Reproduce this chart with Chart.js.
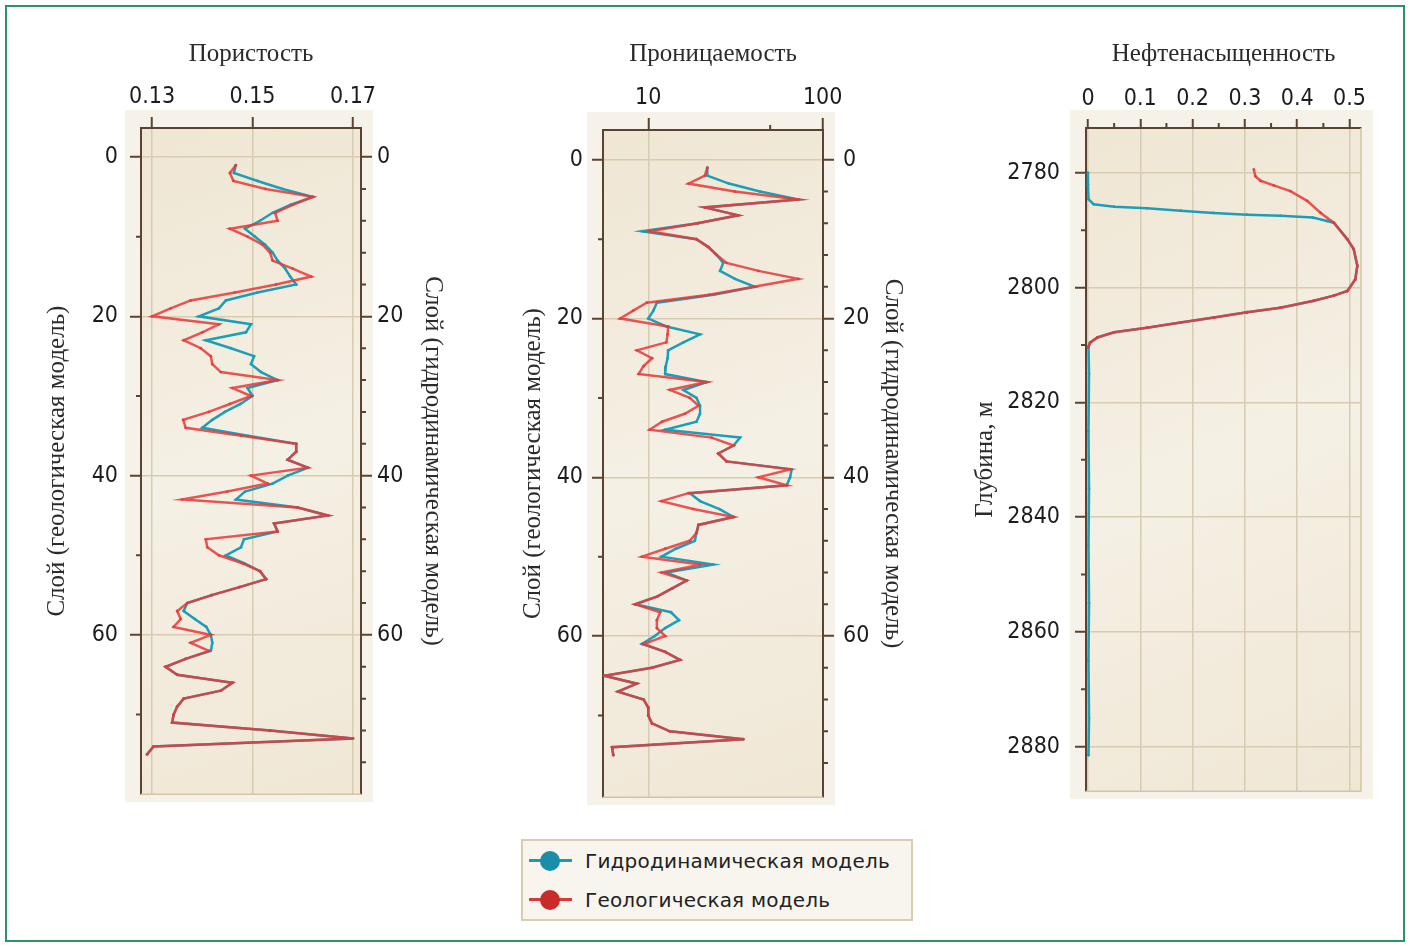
<!DOCTYPE html>
<html lang="ru">
<head>
<meta charset="utf-8">
<script src="https://cdn.jsdelivr.net/npm/chart.js@4.4.1/dist/chart.umd.min.js"></script>
<style>
  body { margin: 0; background: #fff; width: 1410px; height: 947px; overflow: hidden; }
  #frame { position: absolute; left: 5px; top: 5px; width: 1396px; height: 933px; border: 2px solid #2b9466; }
  canvas { position: absolute; top: 20px; }
  #c1 { left: 20px; }
  #c2 { left: 490px; }
  #c3 { left: 950px; }
  #legend {
    position: absolute; left: 521px; top: 839px; width: 388px; height: 78px;
    border: 2px solid #d9ccb0; background: #f8f5ee;
    font-family: 'DejaVu Sans', Verdana, sans-serif; font-size: 20px; color: #222; letter-spacing: 0.2px;
  }
  .item { position: absolute; left: 6px; height: 24px; line-height: 24px; }
  .item .ln { position: absolute; left: 0; top: 10px; width: 43px; height: 3px; }
  .item .dot { position: absolute; left: 11px; top: 2px; width: 20px; height: 20px; border-radius: 50%; }
  .item span { position: absolute; left: 56px; top: 0; white-space: nowrap; }
</style>
</head>
<body>
<div id="frame"></div>
<canvas id="c1" width="450" height="800"></canvas>
<canvas id="c2" width="450" height="800"></canvas>
<canvas id="c3" width="440" height="800"></canvas>
<div id="legend">
  <div class="item" style="top:8px"><div class="ln" style="background:#2496ad"></div><div class="dot" style="background:#1a8da8"></div><span>Гидродинамическая модель</span></div>
  <div class="item" style="top:47px"><div class="ln" style="background:#d83a3a"></div><div class="dot" style="background:#c92a2a"></div><span>Геологическая модель</span></div>
</div>
<script>
// layer numbers (both models share the same layering on the plot)
const layers = Array.from({ length: 75 }, (_, i) => i + 1);

const porHydro = [0.1467, 0.1463, 0.1510, 0.1560, 0.1620, 0.1575, 0.1540, 0.1515, 0.1485, 0.1505,
  0.1525, 0.1540, 0.1550, 0.1565, 0.1575, 0.1587, 0.1510, 0.1447, 0.1433, 0.1393,
  0.1497, 0.1487, 0.1407, 0.1457, 0.1503, 0.1497, 0.1517, 0.1550, 0.1490, 0.1500,
  0.1476, 0.1445, 0.1420, 0.1400, 0.1491, 0.1587, 0.1587, 0.1570, 0.1610, 0.1570,
  0.1540, 0.1485, 0.1467, 0.1590, 0.1650, 0.1543, 0.1550, 0.1483, 0.1477, 0.1447,
  0.1483, 0.1515, 0.1527, 0.1474, 0.1419, 0.1370, 0.1363, 0.1385, 0.1408, 0.1417,
  0.1420, 0.1417, 0.1367, 0.1327, 0.1350, 0.1460, 0.1437, 0.1363, 0.1350, 0.1343,
  0.1340, 0.1535, 0.1700, 0.1303, 0.1290];
const porGeo = [0.1467, 0.1455, 0.1462, 0.1526, 0.1620, 0.1580, 0.1545, 0.1550, 0.1455, 0.1490,
  0.1520, 0.1535, 0.1540, 0.1580, 0.1617, 0.1547, 0.1465, 0.1377, 0.1337, 0.1300,
  0.1433, 0.1400, 0.1363, 0.1397, 0.1417, 0.1420, 0.1437, 0.1550, 0.1460, 0.1497,
  0.1455, 0.1413, 0.1362, 0.1367, 0.1478, 0.1587, 0.1587, 0.1570, 0.1610, 0.1497,
  0.1530, 0.1450, 0.1360, 0.1590, 0.1650, 0.1543, 0.1550, 0.1407, 0.1410, 0.1433,
  0.1480, 0.1515, 0.1527, 0.1474, 0.1419, 0.1370, 0.1350, 0.1357, 0.1343, 0.1417,
  0.1377, 0.1413, 0.1367, 0.1327, 0.1350, 0.1460, 0.1437, 0.1363, 0.1350, 0.1343,
  0.1340, 0.1535, 0.1700, 0.1303, 0.1290];

const permHydro = [21.8, 21.8, 29.0, 43.7, 72.4, 21.1, 32.8, 19.2, 9.2, 18.9,
  22.1, 24.7, 26.9, 25.8, 31.4, 40.9, 23.7, 11.2, 10.7, 10.0,
  12.7, 19.8, 15.9, 13.0, 12.9, 12.6, 12.5, 21.6, 15.9, 18.9,
  19.8, 19.8, 18.9, 12.5, 33.6, 30.8, 25.2, 28.1, 66.4, 65.0,
  62.2, 17.3, 19.8, 25.6, 30.8, 19.4, 18.9, 18.5, 14.4, 11.9,
  23.6, 12.7, 16.6, 13.7, 11.3, 8.4, 13.5, 15.0, 12.5, 10.9,
  9.2, 12.5, 15.2, 10.5, 5.6, 8.6, 6.7, 9.4, 10.0, 10.0,
  10.5, 13.3, 35.1, 6.2, 6.3];
const permGeo = [21.8, 21.1, 17.0, 31.3, 72.4, 21.1, 32.8, 19.2, 10.2, 18.9,
  22.1, 24.7, 28.1, 42.8, 72.4, 40.4, 22.4, 9.8, 8.2, 6.9,
  13.0, 12.9, 12.7, 8.6, 10.5, 9.4, 8.8, 21.6, 13.3, 17.3,
  19.4, 16.2, 12.0, 10.2, 23.1, 30.8, 25.2, 28.1, 65.0, 42.8,
  62.2, 17.0, 11.9, 18.1, 30.8, 19.4, 18.9, 17.3, 12.5, 9.2,
  19.8, 11.9, 16.6, 13.7, 11.3, 8.4, 11.7, 11.2, 11.2, 12.5,
  9.4, 12.5, 15.2, 10.5, 5.6, 8.6, 6.7, 9.4, 10.0, 10.0,
  10.5, 13.3, 35.1, 6.2, 6.3];

// oil saturation vs depth, m
const satHydroDepth = [2780.0, 2782.0, 2784.6, 2785.5, 2785.9, 2786.2, 2786.6, 2787.0, 2787.3, 2787.5,
  2787.8, 2788.4, 2788.7, 2791.6, 2793.3, 2796.2, 2798.6, 2800.6, 2801.4, 2802.3,
  2803.5, 2804.3, 2805.2, 2806.1, 2807.0, 2807.8, 2808.7, 2809.6, 2810.4, 2815,
  2825, 2835, 2845, 2855, 2865, 2875, 2881.5];
const satHydro = [0.000, 0.000, 0.001, 0.011, 0.050, 0.113, 0.177, 0.240, 0.304, 0.368,
  0.430, 0.457, 0.470, 0.496, 0.508, 0.515, 0.511, 0.496, 0.470, 0.432,
  0.368, 0.304, 0.241, 0.177, 0.113, 0.050, 0.018, 0.004, 0.001, 0.002,
  0.001, 0.002, 0.001, 0.002, 0.001, 0.002, 0.001];
const satGeoDepth = [2779.4, 2780.6, 2781.4, 2782.2, 2783.2, 2784.9, 2787.0, 2788.7, 2791.6, 2793.3,
  2796.2, 2798.6, 2800.6, 2801.4, 2802.3, 2803.5, 2804.3, 2805.2, 2806.1, 2807.0,
  2807.8, 2808.7, 2809.6, 2810.4];
const satGeo = [0.317, 0.320, 0.330, 0.355, 0.387, 0.419, 0.445, 0.470, 0.496, 0.508,
  0.515, 0.511, 0.496, 0.470, 0.432, 0.368, 0.304, 0.241, 0.177, 0.113,
  0.050, 0.018, 0.004, 0.000];

// tick labels
const porTicks = [0.13, 0.15, 0.17];
const permTicks = [10, 100];
const satTicks = [0, 0.1, 0.2, 0.3, 0.4, 0.5];
const layerTicks = [0, 20, 40, 60];
const depthTicks = [2780, 2800, 2820, 2840, 2860, 2880];
// unlabelled minor ticks
const layerMinor = [10, 30, 50, 70];
const hydroLayerMinor = [4, 8, 12, 16, 24, 28, 32, 36, 44, 48, 52, 56, 64, 68, 72, 76];
const permMinor = [50];
const satMinor = [0.05, 0.15, 0.25, 0.35, 0.45];
const depthMinor = [2790, 2810, 2830, 2850, 2870];

const TEAL = '#1c9fb6';
const RED = 'rgba(230, 56, 56, 0.85)';
const AXIS = '#5a4430';
const GRID = '#d7cbb2';
const tickFont = { family: "'DejaVu Sans Condensed', 'Liberation Sans', sans-serif", size: 23 };
const titleFont = { family: "'Liberation Serif', 'Times New Roman', serif", size: 25, lineHeight: 1.2 };

const axisDecor = {
  id: 'axisDecor',
  beforeDraw(chart) {
    const { ctx, chartArea: a } = chart;
    ctx.save();
    ctx.fillStyle = '#f6f2e9';
    ctx.fillRect(a.left - 16, a.top - 18, a.width + 28, a.height + 26);
    const g = ctx.createLinearGradient(a.left, a.top, a.right, a.bottom);
    g.addColorStop(0, '#efe6d3');
    g.addColorStop(0.5, '#f5f0e5');
    g.addColorStop(1, '#f0e7d5');
    ctx.fillStyle = g;
    ctx.fillRect(a.left, a.top, a.width, a.height);
    ctx.restore();
  },
  afterDraw(chart, args, opts) {
    const { ctx, chartArea: a, scales } = chart;
    ctx.save();
    ctx.strokeStyle = '#d3c4a5';
    ctx.lineWidth = 1.5;
    ctx.beginPath();
    ctx.moveTo(a.left, a.bottom);
    ctx.lineTo(a.right, a.bottom);
    if (opts.openRight) {
      ctx.moveTo(a.right, a.top);
      ctx.lineTo(a.right, a.bottom);
    }
    ctx.stroke();
    ctx.strokeStyle = AXIS;
    ctx.lineWidth = 2;
    ctx.beginPath();
    for (const m of opts.minor) {
      const s = scales[m.axis];
      for (const v of m.values) {
        const p = s.getPixelForValue(v);
        if (s.position === 'left') { ctx.moveTo(a.left - 5, p); ctx.lineTo(a.left, p); }
        else if (s.position === 'right') { ctx.moveTo(a.right, p); ctx.lineTo(a.right + 5, p); }
        else { ctx.moveTo(p, a.top - 5); ctx.lineTo(p, a.top); }
      }
    }
    ctx.stroke();
    ctx.restore();
  }
};

function fixedTicks(values) {
  return scale => { scale.ticks = values.map(v => ({ value: v })); };
}

function valueAxis(cfg) {
  return {
    type: cfg.type || 'linear',
    position: 'top',
    min: cfg.min,
    max: cfg.max,
    afterBuildTicks: fixedTicks(cfg.ticks),
    afterFit: s => { s.height = cfg.size; },
    ticks: { font: tickFont, color: '#1c1c1c', padding: 6, autoSkip: false, maxRotation: 0, callback: cfg.format },
    grid: { color: GRID, lineWidth: 1.5, tickLength: cfg.tickLength || 11, tickColor: AXIS, tickWidth: 2 },
    border: { color: AXIS, width: 2 },
    title: { display: true, text: cfg.title, font: titleFont, color: '#2b2b2b', padding: { top: 19 } }
  };
}

function depthAxis(cfg) {
  return {
    type: 'linear',
    position: cfg.position,
    reverse: true,
    min: cfg.min,
    max: cfg.max,
    afterBuildTicks: fixedTicks(cfg.ticks),
    afterFit: s => { s.width = cfg.size; },
    ticks: { font: tickFont, color: '#1c1c1c', padding: cfg.pad, autoSkip: false, callback: v => String(v) },
    grid: {
      color: GRID, lineWidth: 1.5, tickLength: 11, tickColor: AXIS, tickWidth: 2,
      drawOnChartArea: cfg.position === 'left'
    },
    border: { color: AXIS, width: 2 },
    title: { display: true, text: cfg.title, font: titleFont, color: '#2b2b2b', padding: { top: cfg.titlePad } }
  };
}

function series(label, xs, ys, color, order) {
  return {
    label,
    data: xs.map((x, i) => ({ x, y: ys[i] })),
    showLine: true,
    borderColor: color,
    backgroundColor: color,
    borderWidth: 2.5,
    pointRadius: 1.4,
    pointBorderWidth: 0,
    tension: 0,
    order
  };
}

function panel(id, datasets, scales, decor, padding) {
  new Chart(document.getElementById(id), {
    type: 'scatter',
    data: { datasets },
    options: {
      responsive: false,
      animation: false,
      events: [],
      layout: { padding },
      scales,
      plugins: { legend: { display: false }, tooltip: { enabled: false }, axisDecor: decor }
    },
    plugins: [axisDecor]
  });
}

// porosity
panel('c1', [
  series('Гидродинамическая модель', porHydro, layers, TEAL, 1),
  series('Геологическая модель', porGeo, layers, RED, 0)
], {
  x: valueAxis({ min: 0.1278, max: 0.1716, ticks: porTicks, size: 108, title: 'Пористость', format: v => v.toFixed(2) }),
  y: depthAxis({ position: 'left', min: -3.65, max: 80, ticks: layerTicks, size: 121, pad: 12, title: 'Слой (геологическая модель)', titlePad: 22 }),
  y2: depthAxis({ position: 'right', min: -3.65, max: 80, ticks: layerTicks, size: 109, pad: 5, title: 'Слой (гидродинамическая модель)', titlePad: 22 })
}, {
  minor: [{ axis: 'y', values: layerMinor }, { axis: 'y2', values: hydroLayerMinor }]
}, { bottom: 21 });

// permeability (log scale)
panel('c2', [
  series('Гидродинамическая модель', permHydro, layers, TEAL, 1),
  series('Геологическая модель', permGeo, layers, RED, 0)
], {
  x: valueAxis({ type: 'logarithmic', min: 5.5, max: 100.4, ticks: permTicks, size: 110, title: 'Проницаемость', format: v => String(v), tickLength: 12 }),
  y: depthAxis({ position: 'left', min: -3.75, max: 80.3, ticks: layerTicks, size: 113, pad: 9, title: 'Слой (геологическая модель)', titlePad: 28 }),
  y2: depthAxis({ position: 'right', min: -3.75, max: 80.3, ticks: layerTicks, size: 117, pad: 9, title: 'Слой (гидродинамическая модель)', titlePad: 32 })
}, {
  minor: [{ axis: 'x', values: permMinor }, { axis: 'y', values: layerMinor }, { axis: 'y2', values: hydroLayerMinor }]
}, { bottom: 20 });

// oil saturation vs depth
panel('c3', [
  series('Гидродинамическая модель', satHydro, satHydroDepth, TEAL, 1),
  series('Геологическая модель', satGeo, satGeoDepth, RED, 0)
], {
  x: valueAxis({ min: -0.0038, max: 0.522, ticks: satTicks, size: 108, title: 'Нефтенасыщенность', format: v => String(v), tickLength: 9 }),
  y: depthAxis({ position: 'left', min: 2772.2, max: 2887.75, ticks: depthTicks, size: 136, pad: 15, title: 'Глубина, м', titlePad: 20 })
}, {
  minor: [{ axis: 'x', values: satMinor }, { axis: 'y', values: depthMinor }],
  openRight: true
}, { bottom: 21, right: 29 });
</script>
</body>
</html>
